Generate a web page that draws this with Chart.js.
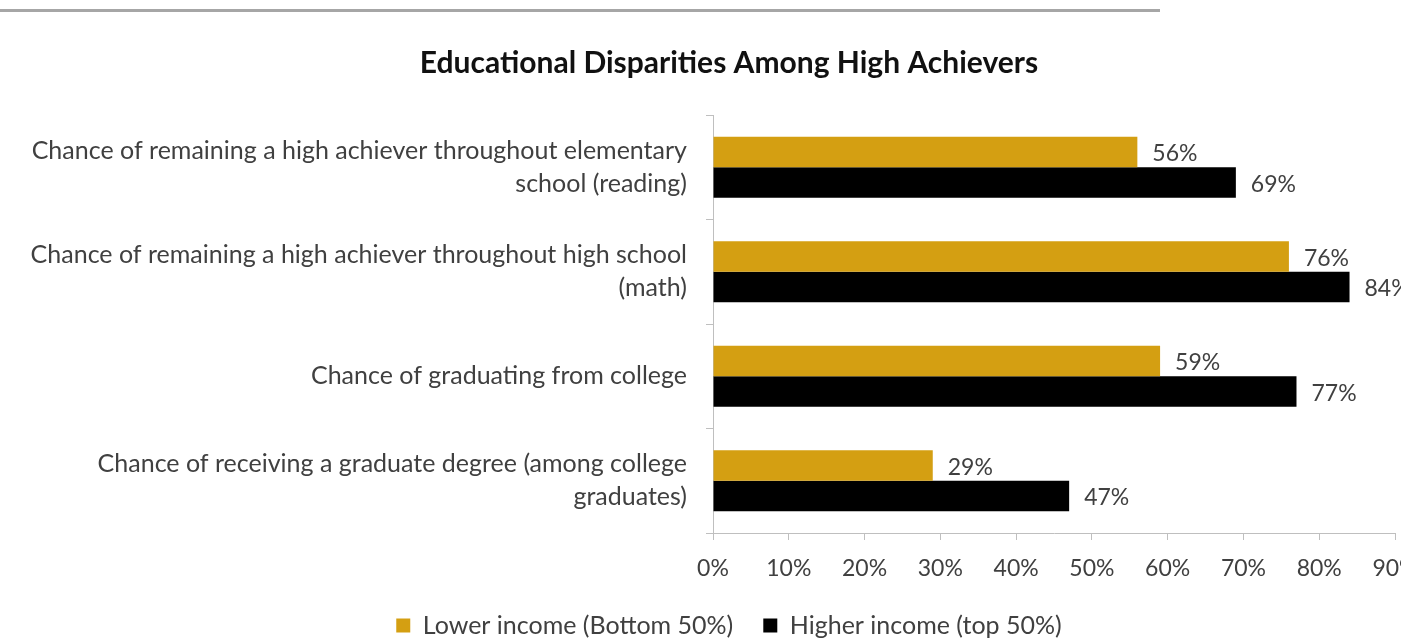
<!DOCTYPE html>
<html>
<head>
<meta charset="utf-8">
<script src="https://cdn.jsdelivr.net/npm/chart.js@4.4.1/dist/chart.umd.min.js"></script>
<style>
  html, body { margin: 0; padding: 0; background: #fff; overflow: hidden; }
  #topRule { position: absolute; left: 0; top: 9px; width: 1160px; height: 3px; background: #a6a6a6; }
  #wrap { position: absolute; left: 0; top: 0; width: 1440px; height: 638px; }
</style>
</head>
<body>
<div id="topRule"></div>
<div id="wrap"><canvas id="chart"></canvas></div>
<script>
const categories = [
    ['Chance of remaining a high achiever throughout elementary', 'school (reading)'],
    ['Chance of remaining a high achiever throughout high school', '(math)'],
    'Chance of graduating from college',
    ['Chance of receiving a graduate degree (among college', 'graduates)']
];
const lowerIncome = [56, 76, 59, 29];
const higherIncome = [69, 84, 77, 47];
const seriesNames = ['Lower income (Bottom 50%)', 'Higher income (top 50%)'];

const FONT = 'Lato';
const TEXT = '#404040';
const AXIS = '#bfbfbf';
const PAD_LEFT = 26;

// value labels at the end of each bar
const barLabels = {
    id: 'barLabels',
    afterDatasetsDraw(chart) {
        const ctx = chart.ctx;
        ctx.save();
        ctx.font = `23px ${FONT}`;
        ctx.fillStyle = TEXT;
        ctx.textAlign = 'left';
        ctx.textBaseline = 'middle';
        chart.data.datasets.forEach((ds, i) => {
            chart.getDatasetMeta(i).data.forEach((bar, j) => {
                ctx.fillText(ds.data[j] + '%', bar.x + 15, bar.y + 2);
            });
        });
        ctx.restore();
    }
};

const ctx = document.getElementById('chart').getContext('2d');
new Chart(ctx, {
    type: 'bar',
    data: {
        labels: categories,
        datasets: [
            { label: seriesNames[0], data: lowerIncome, backgroundColor: '#D49F12', borderWidth: 0 },
            { label: seriesNames[1], data: higherIncome, backgroundColor: '#000000', borderWidth: 0 }
        ]
    },
    options: {
        indexAxis: 'y',
        responsive: true,
        maintainAspectRatio: false,
        animation: false,
        categoryPercentage: 0.584,
        barPercentage: 1.0,
        layout: { padding: { left: PAD_LEFT, right: 8, top: 0, bottom: -10 } },
        scales: {
            x: {
                min: 0,
                max: 90,
                ticks: {
                    stepSize: 10,
                    color: TEXT,
                    font: { family: FONT, size: 23, lineHeight: 0.4 },
                    padding: 24,
                    maxRotation: 0,
                    callback: v => v + '%'
                },
                grid: { drawOnChartArea: false, tickLength: 7, color: AXIS },
                border: { color: AXIS },
                afterFit(scale) {
                    scale.height = 50;
                    scale.paddingRight = 45;
                }
            },
            y: {
                ticks: {
                    color: TEXT,
                    font: { family: FONT, size: 25, lineHeight: 1.32 },
                    padding: 19
                },
                grid: { drawOnChartArea: false, tickLength: 7, color: AXIS, offset: true },
                border: { color: AXIS },
                afterFit(scale) { scale.width = 713 - PAD_LEFT; }
            }
        },
        plugins: {
            title: {
                display: true,
                text: 'Educational Disparities Among High Achievers',
                color: '#111',
                font: { family: FONT, size: 30, weight: 'bold' },
                padding: { top: 45, bottom: 34 }
            },
            legend: {
                position: 'bottom',
                labels: {
                    color: TEXT,
                    font: { family: FONT, size: 25 },
                    boxWidth: 14,
                    boxHeight: 14,
                    padding: 30
                }
            },
            tooltip: { enabled: false }
        }
    },
    plugins: [barLabels]
});
</script>
</body>
</html>
